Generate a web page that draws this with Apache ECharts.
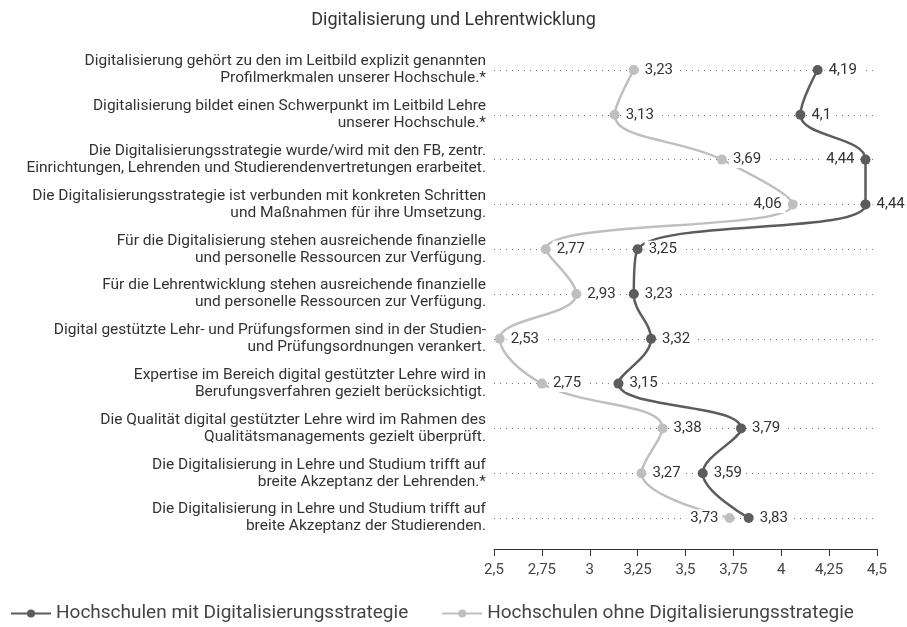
<!DOCTYPE html>
<html>
<head>
<meta charset="utf-8">
<script src="https://cdn.jsdelivr.net/npm/echarts@6/dist/echarts.min.js"></script>
<style>
  html, body { margin: 0; padding: 0; background: #fff; }
  #box { width: 907px; height: 627px; }
</style>
</head>
<body>
<div id="box"></div>
<script>
var categories = [
  'Digitalisierung gehört zu den im Leitbild explizit genannten\nProfilmerkmalen unserer Hochschule.*',
  'Digitalisierung bildet einen Schwerpunkt im Leitbild Lehre\nunserer Hochschule.*',
  'Die Digitalisierungsstrategie wurde/wird mit den FB, zentr.\nEinrichtungen, Lehrenden und Studierendenvertretungen erarbeitet.',
  'Die Digitalisierungsstrategie ist verbunden mit konkreten Schritten\nund Maßnahmen für ihre Umsetzung.',
  'Für die Digitalisierung stehen ausreichende finanzielle\nund personelle Ressourcen zur Verfügung.',
  'Für die Lehrentwicklung stehen ausreichende finanzielle\nund personelle Ressourcen zur Verfügung.',
  'Digital gestützte Lehr- und Prüfungsformen sind in der Studien-\nund Prüfungsordnungen verankert.',
  'Expertise im Bereich digital gestützter Lehre wird in\nBerufungsverfahren gezielt berücksichtigt.',
  'Die Qualität digital gestützter Lehre wird im Rahmen des\nQualitätsmanagements gezielt überprüft.',
  'Die Digitalisierung in Lehre und Studium trifft auf\nbreite Akzeptanz der Lehrenden.*',
  'Die Digitalisierung in Lehre und Studium trifft auf\nbreite Akzeptanz der Studierenden.'
];
var mitStrategie = [4.19, 4.1, 4.44, 4.44, 3.25, 3.23, 3.32, 3.15, 3.79, 3.59, 3.83];
var ohneStrategie = [3.23, 3.13, 3.69, 4.06, 2.77, 2.93, 2.53, 2.75, 3.38, 3.27, 3.73];
// which point labels sit left of the marker
var mitLeft = [2];
var ohneLeft = [3, 10];

var fmt = function (v) { return String(v).replace('.', ','); };
var font = 'Roboto';

function points(vals, leftIdx) {
  return vals.map(function (v, i) {
    var p = { value: v };
    if (leftIdx.indexOf(i) >= 0) p.label = { position: 'left' };
    return p;
  });
}

var myChart = echarts.init(document.getElementById('box'));
var option = {
  animation: false,
  textStyle: { fontFamily: font },
  title: {
    text: 'Digitalisierung und Lehrentwicklung',
    left: 'center',
    top: 6,
    textStyle: { fontSize: 18, fontWeight: 'normal', color: '#333', fontFamily: font }
  },
  legend: {
    left: 5,
    top: 599,
    itemWidth: 40,
    itemHeight: 10,
    itemGap: 33,
    textStyle: { fontSize: 19, color: '#444', fontFamily: font },
    data: ['Hochschulen mit Digitalisierungsstrategie', 'Hochschulen ohne Digitalisierungsstrategie']
  },
  grid: { left: 494, right: 30, top: 70, bottom: 109 },
  xAxis: {
    type: 'value',
    min: 2.5,
    max: 4.5,
    interval: 0.25,
    offset: 31,
    axisLine: { show: true, lineStyle: { color: '#333', width: 1 } },
    axisTick: { show: true, length: 7, lineStyle: { color: '#333' } },
    axisLabel: { formatter: fmt, fontSize: 15, color: '#444', margin: 14, fontFamily: font },
    splitLine: { show: false }
  },
  yAxis: {
    type: 'category',
    inverse: true,
    boundaryGap: false,
    data: categories,
    axisLine: { show: false },
    axisTick: { show: false },
    axisLabel: { fontSize: 15.5, lineHeight: 17, color: '#333', margin: 8, align: 'right', fontFamily: font },
    splitLine: { show: true, lineStyle: { type: [1, 5], color: '#777', width: 1 } }
  },
  series: [
    {
      name: 'Hochschulen mit Digitalisierungsstrategie',
      type: 'line',
      smooth: 0.4,
      symbol: 'circle',
      symbolSize: 10,
      z: 3,
      lineStyle: { width: 2.5, color: '#5c5c5c' },
      itemStyle: { color: '#5c5c5c' },
      label: {
        show: true, position: 'right', distance: 2,
        formatter: function (p) { return fmt(p.value); },
        fontSize: 15, color: '#333', backgroundColor: '#fff', padding: [1, 4], fontFamily: font
      },
      data: points(mitStrategie, mitLeft)
    },
    {
      name: 'Hochschulen ohne Digitalisierungsstrategie',
      type: 'line',
      smooth: 0.4,
      symbol: 'circle',
      symbolSize: 10,
      z: 2,
      lineStyle: { width: 2.5, color: '#bfbfbf' },
      itemStyle: { color: '#bfbfbf' },
      label: {
        show: true, position: 'right', distance: 2,
        formatter: function (p) { return fmt(p.value); },
        fontSize: 15, color: '#333', backgroundColor: '#fff', padding: [1, 4], fontFamily: font
      },
      data: points(ohneStrategie, ohneLeft)
    }
  ]
};
myChart.setOption(option);
</script>
</body>
</html>
